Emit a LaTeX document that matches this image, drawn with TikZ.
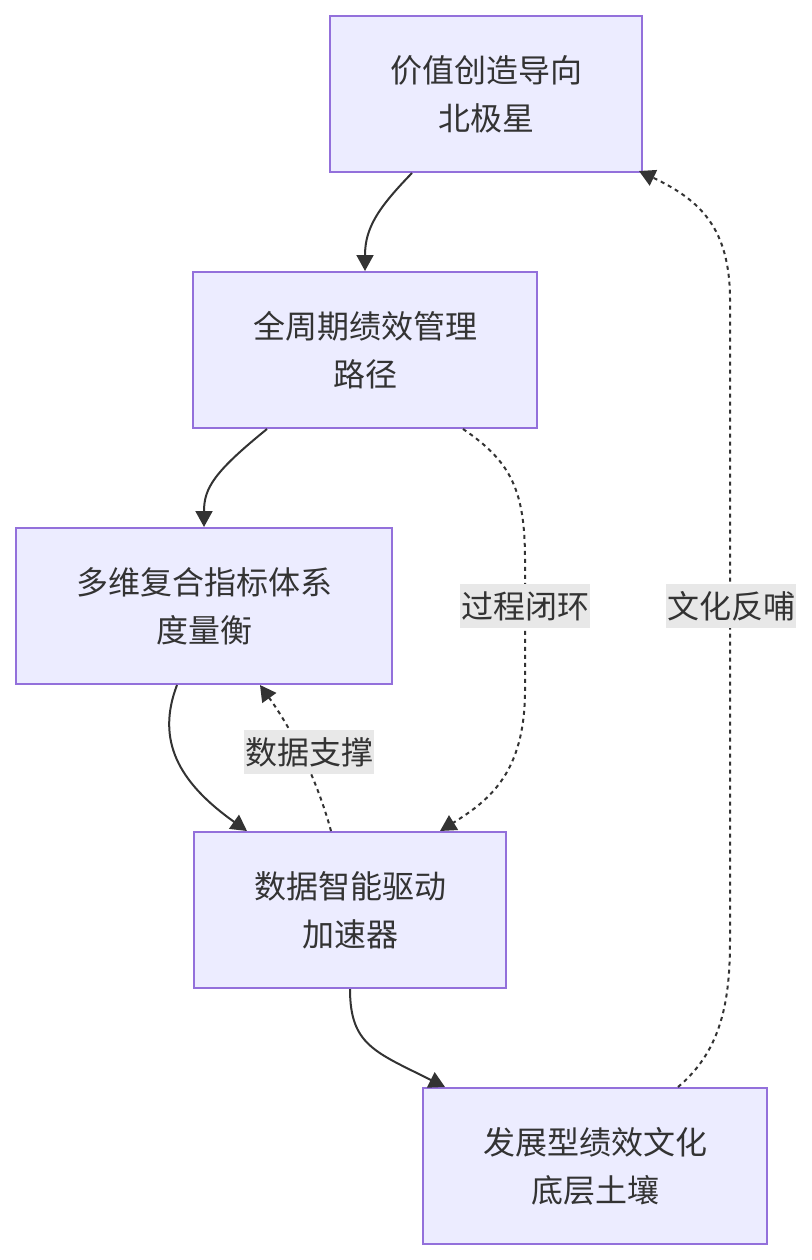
\documentclass[tikz,border=0pt]{standalone}
\usepackage{fontspec}
\newfontfamily\cjk{Noto Sans CJK SC}
\usetikzlibrary{arrows.meta}
\definecolor{boxfill}{HTML}{ECECFF}
\definecolor{boxline}{HTML}{9370DB}
\definecolor{inkgray}{HTML}{333333}
\definecolor{tagfill}{HTML}{E8E8E8}

\begin{document}
\begin{tikzpicture}[x=1pt, y=-1pt, >={Triangle[length=16pt,width=17pt]},
    block/.style={draw=boxline, fill=boxfill, line width=2pt, minimum height=156pt,
        align=center, text=inkgray, font=\cjk\fontsize{32}{48}\selectfont},
    link/.style={draw=inkgray, line width=2pt, ->},
    dotlink/.style={link, dash pattern=on 4pt off 4pt},
    tag/.style={fill=tagfill, text=inkgray, inner xsep=1pt, inner ysep=7pt,
        font=\cjk\fontsize{32}{36}\selectfont}]
    % Page frame
    \useasboundingbox (0,0) rectangle (811,1260);

    % Boxes
    \node[block, minimum width=312pt] (star)  at (486,94)   {价值创造导向\\北极星};
    \node[block, minimum width=344pt] (path)  at (365,350)  {全周期绩效管理\\路径};
    \node[block, minimum width=376pt] (gauge) at (204,606)  {多维复合指标体系\\度量衡};
    \node[block, minimum width=312pt] (accel) at (350,910)  {数据智能驱动\\加速器};
    \node[block, minimum width=344pt] (soil)  at (595,1166) {发展型绩效文化\\底层土壤};

    % Solid links
    \draw[link] ([xshift=-74pt]star.south) .. controls (378,208) and (365,228) .. (path.north);
    \draw[link] ([xshift=-98pt]path.south) .. controls (214,472) and (204,488) .. (gauge.north);
    \draw[link] ([xshift=-27pt]gauge.south) .. controls (156,740) and (178,782) .. ([xshift=-103pt]accel.north);
    \draw[link] (accel.south) .. controls (350,1045) and (375,1052) .. ([xshift=-150pt]soil.north);

    % Dotted links
    \draw[dotlink] ([xshift=98pt]path.south) .. controls (512,462) and (525,492) .. (525,560)
        -- (525,690) .. controls (525,772) and (490,800) .. ([xshift=90pt]accel.north);
    \draw[dotlink] ([xshift=-19pt]accel.north) .. controls (320,790) and (298,738) .. ([xshift=56pt]gauge.south);
    \draw[dotlink] ([xshift=83pt]soil.north) .. controls (722,1050) and (730,1000) .. (730,940)
        -- (730,300) .. controls (730,228) and (700,200) .. ([xshift=153pt,yshift=2pt]star.south);

    % Link labels
    \node[tag] (loop) at (525,606) {过程闭环};
    \node[tag] (data) at (309,752) {数据支撑};
    \node[tag] (feed) at (731,606) {文化反哺};
\end{tikzpicture}
\end{document}
